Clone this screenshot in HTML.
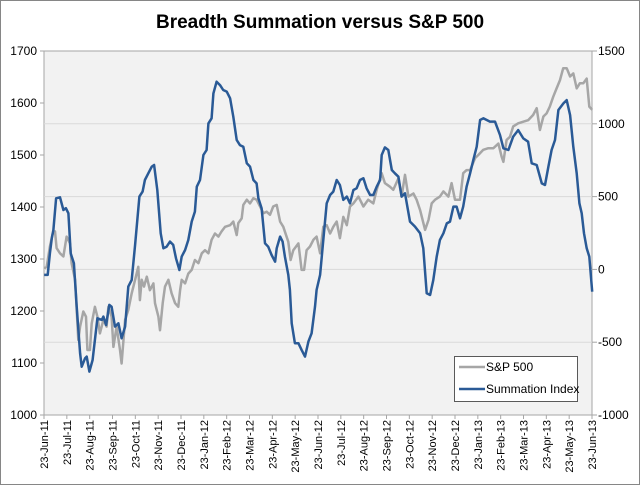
<!DOCTYPE html>
<html><head><meta charset="utf-8"><style>
html,body{margin:0;padding:0;background:#fff;}
svg{display:block;font-family:"Liberation Sans",sans-serif;}
</style></head><body>
<svg id="c" width="640" height="485">
<rect x="0.5" y="0.5" width="639" height="484" fill="#fff" stroke="#868686"/>
<text x="320" y="28" text-anchor="middle" font-size="19" font-weight="bold" fill="#000">Breadth Summation versus S&amp;P 500</text>
<rect x="44" y="51" width="548" height="364" fill="#f2f2f2" stroke="#a6a6a6"/>
<g id="grid"></g><g id="axes"></g><g id="series"></g>
<g>
<rect x="454.5" y="356.5" width="123" height="45" fill="#fff" stroke="#595959"/>
<g><line x1="459" y1="367" x2="485" y2="367" stroke="#a6a6a6" stroke-width="2.5"/><text x="486" y="371" font-size="12" fill="#000">S&amp;P 500</text></g>
<g><line x1="459" y1="389" x2="485" y2="389" stroke="#2a5a96" stroke-width="2.5"/><text x="486" y="393" font-size="12" fill="#000">Summation Index</text></g>
</g>
</svg>
<script>
const xLabels=["23-Jun-11","23-Jul-11","23-Aug-11","23-Sep-11","23-Oct-11","23-Nov-11","23-Dec-11","23-Jan-12","23-Feb-12","23-Mar-12","23-Apr-12","23-May-12","23-Jun-12","23-Jul-12","23-Aug-12","23-Sep-12","23-Oct-12","23-Nov-12","23-Dec-12","23-Jan-13","23-Feb-13","23-Mar-13","23-Apr-13","23-May-13","23-Jun-13"];
const leftTicks=[1000,1100,1200,1300,1400,1500,1600,1700];
const rightTicks=[-1000,-500,0,500,1000,1500];
const sumMonths=[0.01,0.16,0.26,0.34,0.41,0.53,0.70,0.85,0.96,1.07,1.17,1.31,1.43,1.58,1.65,1.80,1.87,1.99,2.13,2.23,2.34,2.53,2.60,2.72,2.86,2.96,3.11,3.26,3.40,3.55,3.69,3.84,3.99,4.18,4.32,4.42,4.57,4.72,4.82,4.96,5.11,5.23,5.37,5.52,5.66,5.78,5.93,6.03,6.18,6.32,6.47,6.61,6.69,6.83,6.98,7.12,7.20,7.34,7.42,7.56,7.71,7.85,8.00,8.15,8.29,8.44,8.58,8.73,8.88,9.02,9.17,9.31,9.39,9.53,9.68,9.82,9.97,10.12,10.19,10.34,10.45,10.55,10.70,10.77,10.85,10.99,11.14,11.28,11.43,11.58,11.72,11.87,11.94,12.09,12.23,12.38,12.53,12.67,12.82,12.96,13.11,13.26,13.40,13.55,13.69,13.84,13.99,14.13,14.28,14.42,14.57,14.72,14.79,14.93,15.08,15.23,15.37,15.52,15.66,15.81,16.03,16.25,16.47,16.61,16.76,16.91,17.05,17.20,17.34,17.49,17.64,17.78,17.93,18.07,18.22,18.36,18.51,18.66,18.80,18.95,19.10,19.24,19.53,19.75,19.97,20.12,20.34,20.55,20.77,20.99,21.20,21.36,21.58,21.80,21.94,22.09,22.23,22.38,22.53,22.75,22.89,23.04,23.18,23.33,23.45,23.55,23.65,23.77,23.88,24.01];
const sumValues=[-38,-38,110,214,271,488,495,408,420,385,110,42,-256,-576,-668,-610,-599,-702,-622,-485,-336,-347,-324,-382,-244,-256,-393,-370,-473,-393,-118,-73,168,500,534,614,660,706,717,545,248,145,156,191,168,76,-4,88,133,202,328,397,568,614,786,820,1003,1038,1209,1289,1266,1232,1221,1175,1049,889,854,843,729,706,614,591,488,420,179,156,99,53,145,225,191,88,-38,-141,-370,-507,-507,-553,-599,-496,-439,-256,-141,-38,202,454,511,534,614,580,477,500,454,545,557,614,626,557,511,511,568,614,786,838,820,683,660,637,500,523,328,294,248,145,-164,-176,-73,88,202,248,316,328,431,431,351,431,568,660,751,843,1026,1038,1015,1015,923,832,820,912,957,900,877,729,717,591,580,706,820,889,1095,1141,1163,1060,843,660,454,385,248,145,88,-153];
const spMonths=[0.01,0.12,0.26,0.38,0.48,0.55,0.70,0.85,0.99,1.14,1.21,1.36,1.50,1.58,1.72,1.84,1.90,2.01,2.09,2.23,2.34,2.45,2.60,2.74,2.82,2.96,3.04,3.18,3.33,3.40,3.55,3.69,3.84,3.99,4.13,4.20,4.28,4.38,4.50,4.64,4.79,4.86,5.01,5.08,5.20,5.30,5.45,5.59,5.74,5.88,5.96,6.03,6.18,6.32,6.47,6.61,6.76,6.91,7.05,7.20,7.34,7.49,7.64,7.78,7.93,8.15,8.29,8.44,8.51,8.66,8.73,8.88,9.02,9.17,9.31,9.46,9.61,9.75,9.90,10.04,10.19,10.34,10.48,10.70,10.80,10.92,11.14,11.28,11.39,11.50,11.65,11.80,11.94,12.09,12.23,12.38,12.53,12.67,12.82,12.96,13.11,13.26,13.40,13.55,13.77,13.99,14.20,14.42,14.57,14.79,14.93,15.15,15.30,15.52,15.66,15.81,15.96,16.18,16.32,16.47,16.69,16.84,16.98,17.13,17.34,17.49,17.71,17.85,18.00,18.22,18.36,18.51,18.66,18.88,19.02,19.24,19.46,19.68,19.90,20.04,20.12,20.26,20.41,20.55,20.77,20.99,21.20,21.42,21.58,21.72,21.87,22.01,22.15,22.30,22.45,22.60,22.74,22.89,23.04,23.18,23.33,23.47,23.62,23.77,23.88,24.01];
const spValues=[1282,1285,1324,1349,1353,1321,1311,1305,1343,1330,1292,1260,1144,1170,1199,1189,1125,1125,1176,1208,1189,1157,1183,1170,1208,1189,1131,1170,1125,1099,1183,1202,1234,1260,1285,1221,1260,1247,1266,1240,1253,1215,1189,1163,1215,1247,1260,1234,1215,1208,1240,1260,1253,1272,1279,1298,1292,1311,1317,1311,1337,1349,1343,1353,1362,1365,1372,1346,1369,1378,1404,1414,1407,1417,1414,1401,1388,1391,1385,1401,1404,1372,1362,1333,1298,1317,1330,1279,1279,1317,1324,1337,1343,1311,1362,1365,1349,1362,1372,1340,1381,1365,1401,1407,1420,1401,1414,1407,1433,1465,1446,1439,1433,1455,1420,1462,1420,1426,1414,1394,1356,1375,1407,1414,1420,1430,1420,1446,1414,1414,1465,1471,1471,1494,1500,1510,1513,1513,1522,1497,1487,1529,1535,1555,1561,1564,1567,1577,1590,1548,1574,1580,1593,1612,1628,1644,1667,1667,1651,1657,1628,1638,1638,1647,1593,1587];

const X0=44,X1=592,Y0=51,Y1=415,NS="http://www.w3.org/2000/svg";
const xs=m=>X0+m*(X1-X0)/(xLabels.length-1);
const yL=v=>Y1-(v-1000)/700*(Y1-Y0);
const yR=v=>Y1-(v+1000)/2500*(Y1-Y0);
function mk(tag,attrs,parent){const e=document.createElementNS(NS,tag);for(const k in attrs)e.setAttribute(k,attrs[k]);parent.appendChild(e);return e;}
const grid=document.getElementById('grid'),axes=document.getElementById('axes'),ser=document.getElementById('series');
rightTicks.forEach(v=>{
  const y=yR(v);
  if(v>-1000&&v<1500){const g=mk('line',{x1:X0,x2:X1,y1:y,y2:y,stroke:'#d9d9d9','stroke-width':1},grid);
  
  }
  mk('line',{x1:X1,x2:X1+5,y1:y,y2:y,stroke:'#a6a6a6'},axes);
  const t=mk('text',{x:X1+6,y:y+4,'font-size':12,fill:'#000'},axes);t.textContent=v;
  
  
});
leftTicks.forEach(v=>{
  const y=yL(v);
  mk('line',{x1:X0-4,x2:X0,y1:y,y2:y,stroke:'#a6a6a6'},axes);
  const t=mk('text',{x:37,y:y+4,'font-size':12,'text-anchor':'end',fill:'#000'},axes);t.textContent=v;
  
  
});
xLabels.forEach((l,i)=>{
  const x=xs(i);
  mk('line',{x1:x,x2:x,y1:Y1,y2:Y1+4,stroke:'#a6a6a6'},axes);
  const t=mk('text',{x:0,y:0,'font-size':11,'text-anchor':'end',fill:'#000',transform:`translate(${x+4},${Y1+5}) rotate(-90)`},axes);t.textContent=l;
  
  
});
function line(ms,vs,yf,col,name){
  const d=ms.map((m,i)=>(i?'L':'M')+xs(m).toFixed(1)+' '+yf(vs[i]).toFixed(1)).join(' ');
  const p=mk('path',{d:d,fill:'none',stroke:col,'stroke-width':2.5,'stroke-linejoin':'round'},ser);
  
  
}
line(spMonths,spValues,yL,'#a6a6a6','sp500-line');
line(sumMonths,sumValues,yR,'#2a5a96','summation-index-line');
</script>
</body></html>
